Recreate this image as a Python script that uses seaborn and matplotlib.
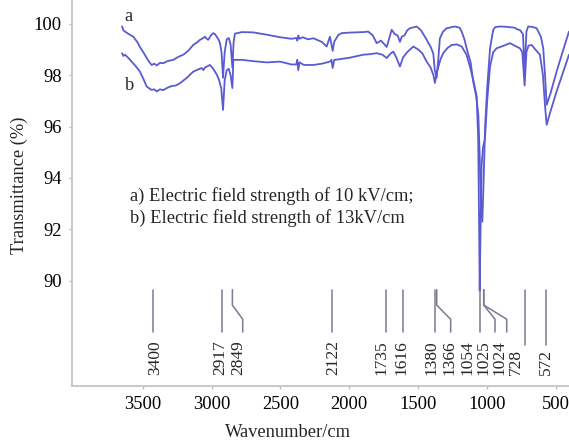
import matplotlib
matplotlib.use("Agg")
import matplotlib.pyplot as plt
import seaborn as sns
import pandas as pd

# FTIR spectra (wavenumber in cm-1, transmittance in %)
wn_a = [3650, 3640, 3628, 3600, 3568, 3540, 3520, 3490, 3471, 3450, 3435, 3415, 3398,
        3375, 3350, 3320, 3278, 3240, 3205, 3170, 3133, 3100, 3084, 3060, 3048, 3035,
        3024, 3005, 2988, 2975, 2963, 2950, 2939, 2928, 2917, 2905, 2890, 2875, 2862,
        2849, 2840, 2830, 2780, 2700, 2600, 2503, 2420, 2385, 2378, 2371, 2362, 2340,
        2300, 2262, 2200, 2165, 2141, 2130, 2121, 2110, 2080, 2056, 2000, 1900, 1863,
        1830, 1802, 1770, 1745, 1729, 1710, 1693, 1670, 1650, 1633, 1620, 1600, 1580,
        1560, 1512, 1480, 1439, 1410, 1391, 1380, 1367, 1355, 1343, 1320, 1294, 1234,
        1200, 1185, 1165, 1149, 1120, 1101, 1080, 1064, 1055, 1045, 1035, 1025, 1015,
        1000, 979, 956, 940, 900, 850, 800, 786, 760, 740, 728, 715, 702, 670, 641, 610,
        593, 580, 568, 540, 496, 450, 406]
tr_a = [99.9, 99.75, 99.7, 99.6, 99.5, 99.3, 99.1, 98.85, 98.67, 98.5, 98.4, 98.45, 98.38,
        98.48, 98.47, 98.55, 98.6, 98.72, 98.8, 98.95, 99.18, 99.3, 99.38, 99.45, 99.5, 99.42,
        99.38, 99.55, 99.64, 99.6, 99.5, 99.4, 99.25, 98.9, 97.9, 98.9, 99.4, 99.45, 99.2,
        98.3, 99.3, 99.62, 99.68, 99.67, 99.58, 99.48, 99.42, 99.45, 99.35, 99.55, 99.42, 99.48,
        99.4, 99.44, 99.3, 99.12, 99.5, 99.2, 98.95, 99.3, 99.57, 99.64, 99.66, 99.68, 99.7,
        99.55, 99.25, 99.35, 99.2, 99.1, 99.45, 99.77, 99.6, 99.55, 99.3, 99.5, 99.55, 99.75,
        99.83, 99.9, 99.75, 99.38, 99.1, 98.85, 98.2, 97.9, 98.6, 99.44, 99.7, 99.83, 99.9,
        99.85, 99.7, 99.4, 99.05, 98.5, 97.75, 97.2, 96.46, 95.0, 93.0, 92.3, 94.0, 96.0,
        97.5, 99.05, 99.77, 99.88, 99.9, 99.88, 99.85, 99.8, 99.75, 99.6, 98.1, 99.7, 99.9,
        99.88, 99.83, 99.5, 99.05, 98.0, 96.85, 97.3, 98.14, 98.95, 99.7]

wn_b = [3650, 3640, 3628, 3600, 3580, 3550, 3520, 3490, 3471, 3450, 3435, 3415, 3398,
        3375, 3350, 3326, 3290, 3260, 3229, 3180, 3133, 3100, 3072, 3060, 3048, 3030,
        3012, 2995, 2975, 2960, 2945, 2930, 2917, 2905, 2890, 2875, 2862, 2849, 2842,
        2780, 2700, 2600, 2503, 2420, 2385, 2378, 2371, 2362, 2330, 2262, 2200, 2141,
        2130, 2121, 2110, 2104, 2000, 1899, 1850, 1802, 1760, 1729, 1700, 1681, 1660,
        1633, 1610, 1580, 1560, 1536, 1500, 1470, 1439, 1410, 1390, 1379, 1365, 1340,
        1319, 1290, 1258, 1220, 1185, 1150, 1125, 1100, 1076, 1065, 1058, 1054, 1048,
        1040, 1030, 1016, 1000, 979, 956, 931, 880, 834, 800, 762, 745, 728, 715, 700,
        677, 650, 617, 595, 580, 568, 540, 496, 450, 406]
tr_b = [98.86, 98.75, 98.8, 98.65, 98.53, 98.35, 98.14, 97.8, 97.56, 97.48, 97.43, 97.45, 97.37,
        97.45, 97.42, 97.5, 97.58, 97.6, 97.69, 97.9, 98.14, 98.22, 98.28, 98.2, 98.3, 98.35,
        98.4, 98.3, 98.14, 98.0, 97.8, 97.5, 96.65, 97.8, 98.2, 98.25, 98.0, 97.5, 98.6,
        98.6, 98.55, 98.5, 98.53, 98.42, 98.42, 98.6, 98.2, 98.5, 98.4, 98.4, 98.45, 98.53,
        98.6, 98.28, 98.6, 98.6, 98.68, 98.8, 98.82, 98.86, 98.8, 98.67, 98.85, 98.92, 98.7,
        98.34, 98.7, 98.9, 99.0, 99.12, 99.0, 98.85, 98.53, 98.3, 98.0, 97.7, 98.1, 98.6,
        98.86, 99.05, 99.18, 99.2, 99.12, 98.8, 98.34, 97.8, 97.17, 95.5, 92.0, 89.6, 92.0,
        94.5, 95.2, 95.5, 97.0, 98.34, 98.9, 99.05, 99.15, 99.25, 99.15, 99.05, 98.9, 97.6,
        98.9, 99.15, 99.18, 99.0, 98.8, 98.0, 96.8, 96.07, 96.6, 97.37, 98.1, 98.8]

# Assigned absorption bands
peak_labels = ["3400", "2917", "2849", "2122", "1735", "1616", "1380", "1366",
               "1054", "1025", "1024", "728", "572"]
peak_wn = [3400, 2917, 2849, 2122, 1735, 1616, 1380, 1366, 1054, 1025, 1024, 728, 572]

x_ticks = [3500, 3000, 2500, 2000, 1500, 1000, 500]
y_ticks = [90, 92, 94, 96, 98, 100]

# Where each label is written and where its leader line ends (spread to avoid overlap)
text_x = [3411, 2934, 2808, 2117, 1766, 1621, 1403, 1270, 1140, 1024, 908, 790, 573]
leader_end = [3425, 2925, 2774, 2128, 1734, 1613, 1379, 1265, 1052, 943, 858, 725, 574]

sns.set_style("ticks")
plt.rcParams["font.family"] = ["Liberation Serif", "DejaVu Serif"]

fig = plt.figure(figsize=(5.69, 4.41), dpi=100)
ax = fig.add_axes([72 / 569, 55 / 441, 1 - 72 / 569, 1 - 55 / 441])

line_color = "#5a5ad2"
df_a = pd.DataFrame({"wn": wn_a, "T": tr_a})
df_b = pd.DataFrame({"wn": wn_b, "T": tr_b})
sns.lineplot(data=df_a, x="wn", y="T", ax=ax, color=line_color, lw=1.3,
             estimator=None, sort=False)
sns.lineplot(data=df_b, x="wn", y="T", ax=ax, color=line_color, lw=1.3,
             estimator=None, sort=False)

ax.set_xlim(4013, 406)
ax.set_ylim(85.9, 100.93)
ax.set_xticks(x_ticks)
ax.set_yticks(y_ticks)
ax.tick_params(axis="both", labelsize=13.3, colors="#bbbbbb", labelcolor="black",
               length=2.5, width=1.0, pad=5)

for side in ["top", "right"]:
    ax.spines[side].set_visible(False)
for side in ["left", "bottom"]:
    ax.spines[side].set_color("#c4c4c4")
    ax.spines[side].set_linewidth(1.3)

ax.set_xlabel("Wavenumber/cm", fontsize=13.3)
ax.set_ylabel("Transmittance (%)", fontsize=13.3)
ax.xaxis.set_label_coords(0.434, -0.098)
ax.yaxis.set_label_coords(-0.088, 0.52)

# Curve tags and legend text
ax.text(3607, 100.27, "a", fontsize=13.3, ha="center", va="center")
ax.text(3592, 97.59, "b", fontsize=13.3, ha="center", va="center")
ax.text(3592, 93.28, "a) Electric field strength of 10 kV/cm;", fontsize=13.3,
        ha="left", va="center")
ax.text(3592, 92.45, "b) Electric field strength of 13kV/cm", fontsize=13.3,
        ha="left", va="center")

# Leader lines and band labels
lead_color = "#7a7a90"
for lab, wn, tx, end in zip(peak_labels, peak_wn, text_x, leader_end):
    bottom = 88.0 if len(lab) == 4 else 87.5
    if abs(end - wn) > 60:
        xs = [wn, wn, end, end]
        ys = [89.65, 89.05, 88.5, bottom]
    else:
        xs = [end, end]
        ys = [89.65, bottom]
    ax.plot(xs, ys, color=lead_color, lw=1.1)
    ax.text(tx, 86.32, lab, rotation=90, fontsize=12.5, ha="center", va="bottom")

fig.savefig("out.png", dpi=100)
